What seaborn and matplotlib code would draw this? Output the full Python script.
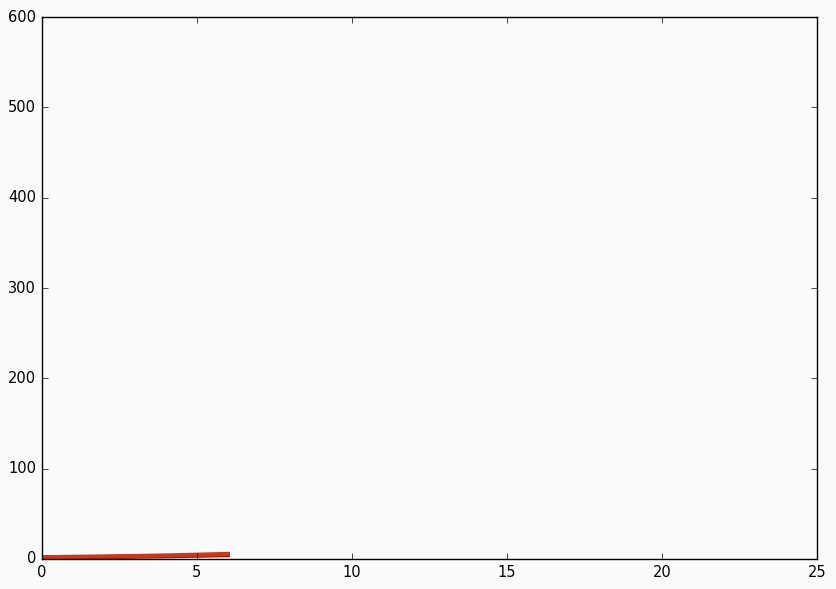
import numpy as np
import pandas as pd
import seaborn as sns
import matplotlib.pyplot as plt

plt.style.use("classic")

# data
steps = [0, 1, 2, 3, 4, 5, 6]
upper = [2.0, 2.4, 2.8, 3.3, 3.9, 4.7, 5.6]
lower = [1.5, 1.8, 2.1, 2.5, 3.0, 3.6, 4.3]

df = pd.DataFrame({"step": steps + steps,
                   "value": lower + upper,
                   "series": ["lower"] * len(steps) + ["upper"] * len(steps)})

fig, ax = plt.subplots(figsize=(8.36, 5.89), dpi=100)
fig.patch.set_facecolor("#fafafa")
ax.set_facecolor("#fafafa")

sns.lineplot(data=df, x="step", y="value", hue="series",
             palette={"lower": "#8b1a0e", "upper": "#c8391a"},
             linewidth=3, legend=False, ax=ax)

ax.set_xlim(0, 25)
ax.set_ylim(0, 600)
ax.set_xlabel("")
ax.set_ylabel("")
ax.tick_params(labelsize=10.5)

plt.subplots_adjust(left=0.05, right=0.977, top=0.971, bottom=0.051)
fig.savefig("out.png", dpi=100, facecolor=fig.get_facecolor())
